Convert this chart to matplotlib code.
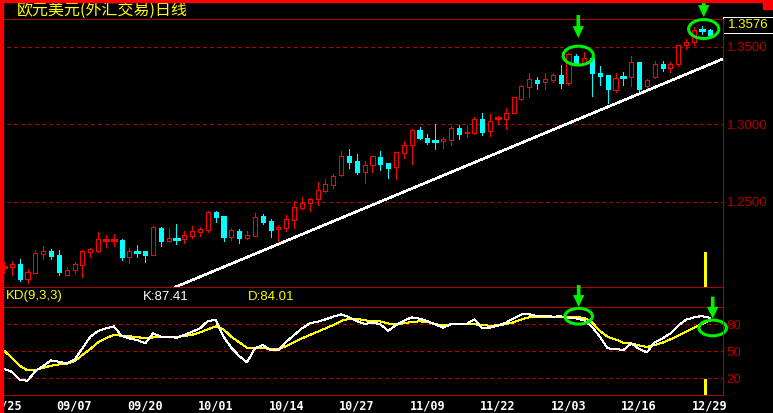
import numpy as np
import matplotlib
matplotlib.use("Agg")
import matplotlib.pyplot as plt
from matplotlib.patches import Rectangle, Ellipse
import matplotlib.transforms as mtrans

# ---------------- data ----------------
title = "欧元美元(外汇交易)日线"
dates = ["08/25", "09/07", "09/20", "10/01", "10/14", "10/27",
         "11/09", "11/22", "12/03", "12/16", "12/29"]

opens = [1.2079, 1.2079, 1.2100, 1.2005, 1.2044, 1.2166, 1.2184, 1.2158, 1.2031, 1.2059,
         1.2095, 1.2179, 1.2184, 1.2253, 1.2253, 1.2255, 1.2147, 1.2179, 1.2184, 1.2160,
         1.2332, 1.2250, 1.2263, 1.2261, 1.2283, 1.2308, 1.2321, 1.2435, 1.2410, 1.2276,
         1.2313, 1.2270, 1.2283, 1.2410, 1.2377, 1.2324, 1.2334, 1.2386, 1.2463, 1.2492,
         1.2517, 1.2571, 1.2612, 1.2674, 1.2795, 1.2763, 1.2695, 1.2737, 1.2790, 1.2752,
         1.2724, 1.2814, 1.2866, 1.2965, 1.2913, 1.2895, 1.2894, 1.2902, 1.2977, 1.2943,
         1.2947, 1.3035, 1.2956, 1.3040, 1.3037, 1.3076, 1.3163, 1.3244, 1.3287, 1.3274,
         1.3289, 1.3317, 1.3266, 1.3442, 1.3399, 1.3427, 1.3334, 1.3319, 1.3221, 1.3305,
         1.3308, 1.3403, 1.3248, 1.3308, 1.3390, 1.3366, 1.3392, 1.3511, 1.3530, 1.3610,
         1.3610]
highs = [1.2115, 1.2119, 1.2132, 1.2068, 1.2190, 1.2216, 1.2197, 1.2190, 1.2081, 1.2111,
         1.2190, 1.2205, 1.2306, 1.2287, 1.2294, 1.2261, 1.2201, 1.2221, 1.2184, 1.2343,
         1.2337, 1.2332, 1.2358, 1.2311, 1.2345, 1.2337, 1.2442, 1.2442, 1.2410, 1.2332,
         1.2324, 1.2311, 1.2429, 1.2421, 1.2390, 1.2350, 1.2414, 1.2506, 1.2530, 1.2524,
         1.2627, 1.2646, 1.2679, 1.2827, 1.2842, 1.2810, 1.2763, 1.2795, 1.2827, 1.2752,
         1.2825, 1.2894, 1.2971, 1.2984, 1.2939, 1.3003, 1.2917, 1.2992, 1.2997, 1.2995,
         1.3050, 1.3074, 1.3068, 1.3055, 1.3106, 1.3175, 1.3253, 1.3334, 1.3306, 1.3330,
         1.3332, 1.3384, 1.3459, 1.3455, 1.3470, 1.3427, 1.3379, 1.3319, 1.3330, 1.3339,
         1.3440, 1.3403, 1.3294, 1.3410, 1.3410, 1.3401, 1.3511, 1.3552, 1.3631, 1.3635,
         1.3616]
lows = [1.2044, 1.2029, 1.1992, 1.1979, 1.2044, 1.2132, 1.2134, 1.2031, 1.2031, 1.2042,
        1.2018, 1.2147, 1.2177, 1.2212, 1.2218, 1.2128, 1.2108, 1.2147, 1.2115, 1.2156,
        1.2218, 1.2244, 1.2231, 1.2237, 1.2270, 1.2281, 1.2308, 1.2373, 1.2250, 1.2257,
        1.2237, 1.2259, 1.2279, 1.2360, 1.2276, 1.2229, 1.2315, 1.2334, 1.2453, 1.2444,
        1.2483, 1.2566, 1.2592, 1.2670, 1.2719, 1.2681, 1.2625, 1.2695, 1.2708, 1.2657,
        1.2648, 1.2786, 1.2747, 1.2905, 1.2876, 1.2844, 1.2850, 1.2870, 1.2906, 1.2917,
        1.2939, 1.2934, 1.2926, 1.3003, 1.2971, 1.3076, 1.3160, 1.3179, 1.3227, 1.3227,
        1.3276, 1.3237, 1.3253, 1.3395, 1.3395, 1.3186, 1.3255, 1.3137, 1.3212, 1.3255,
        1.3250, 1.3205, 1.3218, 1.3300, 1.3345, 1.3341, 1.3377, 1.3489, 1.3513, 1.3584,
        1.3573]
closes = [1.2080, 1.2098, 1.2005, 1.2046, 1.2169, 1.2184, 1.2152, 1.2048, 1.2059, 1.2100,
          1.2184, 1.2197, 1.2261, 1.2254, 1.2254, 1.2147, 1.2184, 1.2178, 1.2158, 1.2339,
          1.2250, 1.2268, 1.2262, 1.2285, 1.2313, 1.2326, 1.2435, 1.2403, 1.2276, 1.2319,
          1.2270, 1.2285, 1.2403, 1.2373, 1.2319, 1.2339, 1.2390, 1.2466, 1.2494, 1.2517,
          1.2575, 1.2614, 1.2666, 1.2795, 1.2758, 1.2695, 1.2737, 1.2795, 1.2747, 1.2719,
          1.2821, 1.2868, 1.2963, 1.2915, 1.2889, 1.2894, 1.2905, 1.2977, 1.2939, 1.2950,
          1.3035, 1.2952, 1.3021, 1.3041, 1.3074, 1.3175, 1.3246, 1.3292, 1.3270, 1.3292,
          1.3317, 1.3266, 1.3453, 1.3399, 1.3427, 1.3330, 1.3315, 1.3227, 1.3302, 1.3304,
          1.3403, 1.3227, 1.3285, 1.3390, 1.3365, 1.3390, 1.3511, 1.3530, 1.3610, 1.3609,
          1.3576]

k_vals = [30.3, 27.3, 18.5, 17.3, 28.1, 33.7, 40.0, 38.5, 36.6, 40.7,
          53.3, 66.2, 72.6, 75.5, 77.8, 67.4, 64.4, 62.5, 58.9, 70.0,
          66.2, 66.2, 65.1, 68.1, 71.8, 75.5, 83.7, 84.8, 66.2, 54.0,
          44.8, 37.8, 53.3, 57.0, 51.4, 51.4, 60.7, 68.1, 75.5, 81.1,
          82.9, 85.5, 88.5, 91.1, 88.1, 83.7, 80.3, 82.2, 80.0, 72.9,
          79.2, 84.0, 87.8, 86.3, 83.7, 80.0, 76.3, 80.0, 80.0, 80.4,
          85.5, 75.5, 76.3, 78.5, 81.8, 86.6, 91.1, 91.1, 89.2, 89.6,
          88.5, 88.9, 86.6, 86.6, 84.4, 77.4, 66.2, 53.3, 52.6, 51.4,
          58.9, 52.6, 48.9, 60.0, 64.4, 70.0, 78.5, 85.1, 87.8, 89.2,
          87.41]
d_vals = [50.7, 42.9, 34.0, 28.9, 29.2, 31.8, 34.0, 35.5, 36.2, 39.2,
          45.9, 52.6, 60.0, 64.4, 68.4, 67.3, 66.7, 65.9, 64.4, 65.5,
          65.9, 65.9, 66.2, 67.0, 68.4, 71.1, 74.4, 77.8, 74.4, 66.2,
          60.0, 54.0, 53.3, 53.3, 53.0, 52.6, 55.9, 60.0, 64.4, 68.1,
          71.8, 75.5, 79.2, 83.7, 86.3, 86.3, 84.4, 83.7, 83.3, 81.0,
          80.0, 81.1, 82.6, 83.3, 82.6, 80.3, 78.9, 80.0, 80.0, 80.0,
          80.0, 79.2, 78.5, 78.9, 80.3, 82.2, 85.5, 87.8, 88.1, 88.1,
          88.1, 88.1, 88.1, 87.8, 87.4, 82.2, 72.6, 66.2, 63.3, 59.6,
          58.9, 56.7, 54.8, 57.0, 59.6, 63.3, 67.4, 71.8, 76.3, 80.3,
          84.01]

price_ticks = [1.25, 1.30, 1.35]
kd_ticks = [20, 50, 80]
date_step = 9

# hand-drawn trend line (candle index, price)
trend_x = [21.9, 91.7]
trend_y = [1.1952, 1.3423]
# green highlight marks: circled candle pairs, KD ellipse centres
price_marks = [(73, 74), (89, 90)]
kd_marks = [(73.3, 89.0), (90.4, 76.0)]
cursor_x = 89.45

# ---------------- style ----------------
RED = "#FF0000"
CYAN = "#00FFFF"
DARK = "#B00000"
GREEN = "#00F000"
YELLOW = "#FFFF00"
W, H = 773, 413
PX = 0.72  # one pixel in points

plt.rcParams["font.family"] = ["Liberation Sans Narrow", "Liberation Sans", "DejaVu Sans"]


def fx(px):
    return px / W


def fy(py):
    return 1 - py / H


fig = plt.figure(figsize=(W / 100, H / 100), dpi=100, facecolor="black")
ax = fig.add_axes([0, fy(287), fx(723), (287 - 19) / H])
kd = fig.add_axes([0, fy(395), fx(723), (395 - 306.7) / H])

n = len(opens)
for a in (ax, kd):
    a.set_facecolor("black")
    a.set_xlim(-0.51, 91.71)
    a.spines["left"].set_visible(False)
    for s in ("top", "bottom", "right"):
        a.spines[s].set_color(DARK)
        a.spines[s].set_linewidth(PX)
        a.spines[s].set_antialiased(False)
    a.yaxis.tick_right()
    a.tick_params(axis="y", length=0, pad=2.5, labelcolor=DARK, labelsize=9.5)

ax.set_ylim(1.19516, 1.36806)
kd.set_ylim(1.5, 99.6)

# grid lines
for t in price_ticks:
    ax.axhline(t, color=DARK, lw=PX, dashes=(4, 3), antialiased=False, zorder=1)
for t in kd_ticks:
    kd.axhline(t, color=DARK, lw=PX, dashes=(4, 3), antialiased=False, zorder=1)

ax.set_yticks(price_ticks)
ax.set_yticklabels([f"{t:.4f}" for t in price_ticks])
kd.set_yticks(kd_ticks)
kd.set_yticklabels([str(t) for t in kd_ticks])
ax.set_xticks([])

# candles
bw = 0.52
for i in range(n):
    o, h, l, c = opens[i], highs[i], lows[i], closes[i]
    up = c >= o
    col = RED if up else CYAN
    top, bot = max(o, c), min(o, c)
    if top - bot < 0.0002:
        ax.plot([i - bw / 2, i + bw / 2], [o, o], color=col, lw=PX * 1.2,
                antialiased=False, zorder=3)
        ax.plot([i, i], [l, h], color=col, lw=PX, antialiased=False, zorder=3)
    else:
        ax.plot([i, i], [top, h], color=col, lw=PX, antialiased=False, zorder=3)
        ax.plot([i, i], [l, bot], color=col, lw=PX, antialiased=False, zorder=3)
        ax.add_patch(Rectangle((i - bw / 2, bot), bw, top - bot,
                               facecolor="black" if up else CYAN, edgecolor=col,
                               lw=PX, antialiased=False, zorder=4))

# trend line
ax.plot(trend_x, trend_y, color="white", lw=1.1, antialiased=False, zorder=5)

# cursor line
ax.axvline(cursor_x, ymin=0, ymax=0.127, color=YELLOW, lw=0.8, antialiased=False)
kd.axvline(cursor_x, ymin=0, ymax=0.17, color=YELLOW, lw=0.8, antialiased=False)

# KD lines
x = np.arange(n)
kd.plot(x, k_vals, color="white", lw=PX, antialiased=False, zorder=4)
kd.plot(x, d_vals, color=YELLOW, lw=PX, antialiased=False, zorder=3)

kd.set_xticks(np.arange(0, n, date_step))
kd.set_xticklabels(dates, color="white", fontfamily="DejaVu Sans Mono",
                   fontweight="bold", fontsize=8.5)
kd.tick_params(axis="x", length=0, pad=3.5)

# price highlight ellipses + arrows
arrow_kw = dict(facecolor=GREEN, edgecolor=GREEN, width=2.6, headwidth=8.2,
                headlength=8.6, shrink=0, lw=0)
ell_w = 3.85
ell_h = 0.0122
gaps = [0.0052, 0.0016]
for (a_i, b_i), gap in zip(price_marks, gaps):
    cx = (a_i + b_i) / 2 - 0.25
    hi = max(highs[a_i], highs[b_i])
    lo = min(lows[a_i], lows[b_i])
    cy = (hi + lo) / 2 + 0.0012
    ax.add_patch(Ellipse((cx, cy), ell_w, ell_h, fill=False, edgecolor=GREEN,
                         lw=2.2, zorder=6, clip_on=False))
    tip = cy + ell_h / 2 + gap
    ax.annotate("", xy=(cx, tip), xytext=(0, 23), textcoords="offset pixels",
                arrowprops=arrow_kw, annotation_clip=False, zorder=7)

for (cx, cy) in kd_marks:
    kd.add_patch(Ellipse((cx, cy), 3.5, 17.5, fill=False, edgecolor=GREEN,
                         lw=2.2, zorder=6, clip_on=False))
    tip = cy + 17.5 / 2 + 1.5
    kd.annotate("", xy=(cx, tip), xytext=(0, 22), textcoords="offset pixels",
                arrowprops=arrow_kw, annotation_clip=False, zorder=7)

# last price box
last = closes[-1]
trans = mtrans.blended_transform_factory(ax.transAxes, ax.transData)
ax.add_patch(Rectangle((1.0, last + 0.0012), 55 / 723, 0.0107, transform=trans,
                       facecolor="black", edgecolor="white", lw=PX, clip_on=False,
                       antialiased=False, zorder=8))
ax.text(1.0 + 5 / 723, last + 0.0012 + 0.0107 / 2, f"{last:.4f}", transform=trans,
        color=YELLOW, va="center", ha="left", fontsize=9.5, clip_on=False, zorder=9)

# right axis line through the label strip
fig.add_artist(plt.Line2D([fx(723), fx(723)], [fy(395), fy(19)], color=DARK, lw=PX,
                          antialiased=False, transform=fig.transFigure))

# texts
fig.text(fx(17), fy(10.5), title, color=YELLOW, va="center", ha="left", fontsize=11.5,
         family=["Noto Sans CJK SC", "DejaVu Sans"])
fig.text(fx(6), fy(296.5), "KD(9,3,3)", color=YELLOW, va="center", ha="left", fontsize=9.5)
fig.text(fx(143), fy(296.5), f"K:{k_vals[-1]:.2f}", color="white", va="center",
         ha="left", fontsize=9.5)
fig.text(fx(248), fy(296.5), f"D:{d_vals[-1]:.2f}", color=YELLOW, va="center",
         ha="left", fontsize=9.5)

# red frame pieces
fig.add_artist(Rectangle((0, 0), fx(3), 1, transform=fig.transFigure, color=RED, zorder=20))
fig.add_artist(Rectangle((0, fy(2)), 1, 2 / H, transform=fig.transFigure, color=RED, zorder=20))
fig.add_artist(Rectangle((fx(763), fy(9)), fx(10), 9 / H, transform=fig.transFigure,
                         color=RED, zorder=20))

fig.savefig("out.png", dpi=100, facecolor="black")
